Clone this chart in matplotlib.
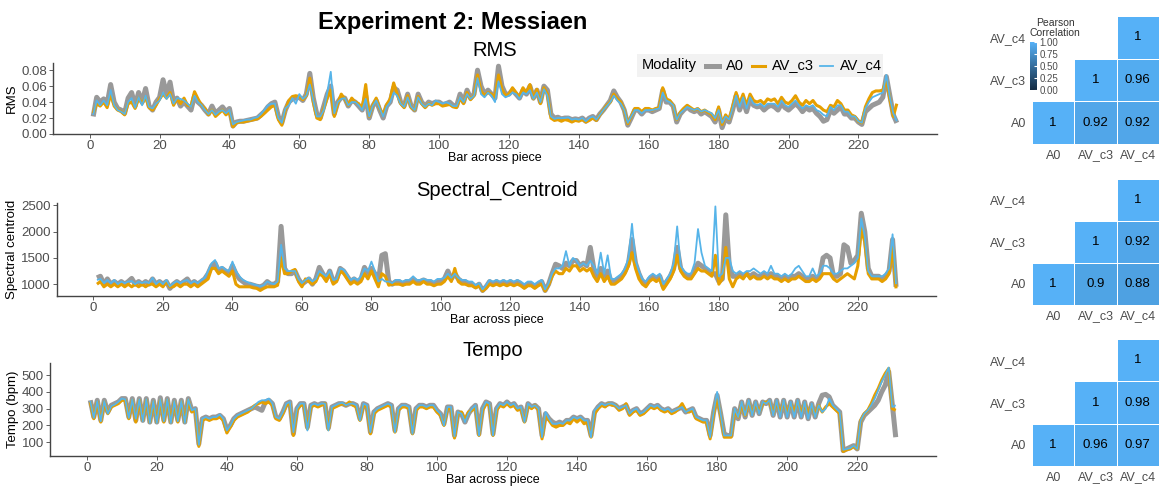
import numpy as np
import matplotlib
matplotlib.use('Agg')
import matplotlib.pyplot as plt
from matplotlib.colors import LinearSegmentedColormap, Normalize
from matplotlib.colorbar import ColorbarBase
from matplotlib.patches import Rectangle
from matplotlib.lines import Line2D

plt.rcParams['font.family'] = ['Liberation Sans', 'DejaVu Sans']

# Data
bars = np.arange(1, 232)
modalities = ['A0', 'AV_c3', 'AV_c4']

# RMS, in thousandths
rms_A0 = [22, 46, 40, 44, 38, 62, 40, 32, 30, 26,
          45, 52, 35, 52, 40, 57, 35, 30, 40, 46,
          68, 50, 65, 40, 45, 35, 40, 35, 30, 48,
          40, 36, 30, 25, 35, 26, 30, 34, 28, 32,
          10, 15, 16, 16, 17, 18, 19, 20, 24, 28,
          34, 38, 40, 22, 14, 30, 40, 44, 45, 46,
          42, 50, 76, 45, 25, 20, 35, 50, 60, 25,
          40, 46, 45, 35, 42, 40, 35, 30, 48, 20,
          35, 42, 30, 20, 35, 40, 58, 55, 40, 35,
          50, 35, 30, 50, 40, 35, 40, 38, 40, 40,
          37, 38, 40, 36, 35, 50, 40, 55, 45, 50,
          80, 60, 50, 55, 50, 45, 85, 60, 50, 50,
          55, 50, 45, 55, 50, 60, 45, 55, 40, 60,
          55, 25, 20, 21, 19, 20, 20, 18, 19, 18,
          20, 16, 20, 22, 18, 25, 30, 36, 42, 54,
          46, 40, 30, 11, 20, 30, 30, 25, 30, 30,
          28, 30, 32, 55, 40, 40, 35, 15, 25, 30,
          34, 30, 28, 30, 25, 28, 25, 22, 15, 30,
          8, 20, 15, 30, 48, 30, 42, 28, 44, 36,
          34, 35, 30, 34, 36, 34, 30, 38, 33, 30,
          34, 38, 34, 28, 33, 30, 32, 26, 22, 16,
          18, 30, 26, 30, 34, 25, 25, 20, 20, 15,
          12, 28, 32, 36, 38, 40, 46, 72, 48, 24, 14]
rms_c3 = [26, 38, 35, 40, 33, 50, 35, 30, 28, 24,
          38, 40, 32, 45, 38, 46, 33, 30, 36, 44,
          50, 45, 52, 36, 44, 38, 45, 36, 35, 53,
          44, 36, 32, 24, 30, 22, 26, 30, 24, 28,
          9, 14, 15, 15, 16, 17, 18, 19, 22, 26,
          30, 34, 36, 18, 11, 30, 42, 47, 48, 47,
          43, 48, 70, 40, 20, 18, 32, 45, 55, 22,
          38, 50, 44, 36, 45, 40, 38, 32, 62, 22,
          36, 45, 32, 24, 37, 44, 64, 50, 38, 33,
          48, 33, 30, 47, 38, 33, 38, 36, 38, 38,
          35, 36, 37, 34, 33, 45, 38, 52, 43, 48,
          74, 54, 48, 52, 50, 46, 74, 56, 48, 50,
          58, 52, 46, 58, 52, 62, 44, 56, 38, 58,
          50, 20, 17, 18, 16, 18, 17, 15, 17, 16,
          18, 15, 17, 20, 17, 24, 30, 36, 40, 50,
          44, 40, 30, 13, 22, 32, 32, 28, 32, 32,
          30, 32, 33, 58, 44, 42, 36, 18, 27, 32,
          36, 33, 30, 32, 28, 30, 27, 25, 18, 34,
          12, 24, 18, 34, 52, 38, 50, 36, 50, 42,
          40, 42, 38, 44, 42, 44, 38, 46, 40, 38,
          42, 48, 40, 36, 42, 38, 42, 36, 34, 30,
          28, 36, 34, 42, 38, 30, 30, 24, 22, 16,
          14, 34, 44, 52, 54, 54, 55, 68, 44, 22, 38]
rms_c4 = [24, 42, 36, 42, 36, 55, 36, 30, 28, 25,
          40, 45, 33, 46, 36, 48, 34, 32, 38, 42,
          52, 44, 50, 38, 45, 44, 42, 38, 34, 48,
          40, 36, 30, 25, 30, 24, 28, 30, 26, 30,
          12, 15, 16, 17, 18, 18, 20, 21, 25, 30,
          36, 38, 38, 20, 14, 32, 36, 45, 38, 50,
          44, 48, 62, 42, 22, 22, 30, 52, 78, 26,
          40, 44, 45, 36, 40, 40, 36, 30, 44, 22,
          35, 42, 32, 22, 34, 40, 52, 48, 38, 34,
          46, 34, 30, 46, 38, 34, 38, 36, 42, 40,
          38, 40, 38, 35, 35, 46, 40, 50, 44, 48,
          70, 50, 46, 52, 48, 40, 66, 50, 46, 48,
          52, 50, 44, 52, 50, 55, 44, 52, 40, 56,
          48, 22, 19, 20, 20, 20, 21, 18, 19, 18,
          20, 16, 20, 22, 18, 24, 30, 35, 40, 48,
          42, 38, 30, 14, 22, 30, 30, 26, 30, 30,
          30, 31, 32, 52, 42, 40, 36, 18, 26, 30,
          34, 32, 30, 32, 28, 30, 28, 26, 20, 30,
          14, 22, 18, 32, 48, 34, 46, 32, 46, 38,
          36, 38, 34, 38, 38, 38, 34, 42, 36, 34,
          38, 42, 36, 32, 36, 34, 36, 30, 28, 24,
          22, 34, 30, 36, 36, 28, 28, 22, 22, 16,
          14, 32, 40, 46, 48, 50, 52, 74, 46, 26, 16]

# Spectral centroid, Hz
spec_A0 = [1120, 1150, 1000, 1100, 1000, 1050, 1000, 1050, 1000, 1050,
           1110, 1000, 1050, 1000, 1050, 1000, 1100, 1000, 1050, 1000,
           1050, 920, 1000, 1050, 1000, 1050, 1100, 1000, 1050, 1000,
           1050, 1100, 1200, 1350, 1400, 1250, 1300, 1250, 1200, 1350,
           1200, 1100, 1050, 1000, 1000, 980, 960, 950, 980, 1050,
           1000, 1000, 1050, 2100, 1300, 1200, 1200, 1250, 1100, 1000,
           1050, 1100, 1000, 1100, 1320, 1200, 1100, 1250, 1050, 1100,
           1300, 1250, 1150, 1050, 1100, 1050, 1100, 1320, 1200, 1300,
           1200, 1050, 1550, 1580, 1050, 1000, 1050, 1050, 1000, 1050,
           1050, 1100, 1050, 1050, 1080, 1050, 1050, 1000, 1050, 1050,
           1100, 1250, 1100, 1200, 1100, 1050, 1050, 1000, 1000, 950,
           1000, 880, 950, 1050, 1000, 1050, 1000, 1050, 1000, 1050,
           1000, 1050, 1000, 950, 1000, 1000, 950, 1000, 1050, 880,
           1000, 1200, 1380, 1350, 1300, 1400, 1350, 1450, 1450, 1350,
           1400, 1350, 1700, 1300, 1150, 1300, 1150, 1250, 1050, 1050,
           1100, 1150, 1250, 1400, 1850, 1400, 1200, 1050, 1000, 1100,
           1150, 1100, 1150, 950, 1050, 1150, 1300, 1700, 1300, 1200,
           1150, 1150, 1250, 1400, 1350, 1300, 1250, 1200, 1200, 1050,
           1100, 2320, 1350, 1150, 1150, 1200, 1150, 1200, 1150, 1200,
           1150, 1150, 1200, 1150, 1200, 1150, 1150, 1100, 1150, 1100,
           1150, 1150, 1200, 1150, 1100, 1100, 1150, 1100, 1150, 1500,
           1550, 1500, 1150, 1150, 1200, 1750, 1700, 1400, 1450, 1550,
           2350, 2000, 1300, 1150, 1150, 1150, 1100, 1150, 1250, 1850, 950]
spec_c3 = [1000, 1050, 950, 1000, 950, 1000, 950, 1000, 950, 1000,
           950, 1000, 950, 1000, 950, 1000, 1000, 950, 1000, 950,
           1050, 950, 950, 1000, 950, 1000, 1000, 950, 1000, 950,
           1000, 1050, 1100, 1300, 1300, 1200, 1250, 1200, 1150, 1250,
           1000, 950, 950, 950, 950, 930, 920, 880, 920, 950,
           950, 950, 980, 1500, 1200, 1200, 1250, 1280, 1050, 950,
           1100, 1050, 1000, 1050, 1200, 1150, 1050, 1200, 1000, 1050,
           1250, 1200, 1100, 1000, 1050, 1000, 1050, 1200, 1100, 1250,
           1100, 950, 1200, 1150, 980, 1000, 1000, 1000, 980, 1000,
           1000, 1050, 1000, 1000, 1050, 1000, 1000, 970, 1000, 1000,
           1050, 1150, 1050, 1300, 1050, 1000, 1000, 970, 970, 930,
           970, 870, 920, 1000, 970, 1000, 970, 1000, 970, 1000,
           970, 1000, 970, 920, 970, 970, 920, 970, 1000, 870,
           980, 1150, 1250, 1200, 1200, 1300, 1250, 1350, 1350, 1250,
           1300, 1250, 1300, 1150, 1050, 1200, 1050, 1150, 1000, 1000,
           1050, 1100, 1200, 1350, 1600, 1300, 1100, 1000, 950, 1050,
           1100, 1050, 1100, 900, 1000, 1100, 1250, 1550, 1250, 1150,
           1100, 1100, 1200, 1300, 1250, 1250, 1200, 1150, 1550, 1000,
           1100, 1700, 1100, 950, 1100, 1150, 1100, 1200, 1100, 1150,
           1100, 1100, 1150, 1100, 1150, 1100, 1100, 1050, 1100, 1050,
           1100, 1100, 1150, 1100, 1050, 1050, 1100, 1050, 1100, 1200,
           1200, 1200, 1100, 1050, 1100, 1150, 1200, 1150, 1100, 1350,
           2050, 1800, 1200, 1100, 1100, 1100, 1050, 1100, 1200, 1700, 920]
spec_c4 = [1080, 1100, 1020, 1080, 1020, 1080, 1000, 1050, 1020, 1050,
           1060, 1000, 1050, 1020, 1050, 1020, 1120, 1000, 1060, 1000,
           1080, 960, 1020, 1060, 1020, 1060, 1080, 1020, 1060, 1020,
           1080, 1120, 1250, 1400, 1460, 1300, 1330, 1280, 1250, 1430,
           1250, 1150, 1080, 1050, 1020, 1000, 980, 960, 980, 1050,
           1020, 1000, 1050, 1750, 1300, 1250, 1250, 1250, 1100, 1020,
           1080, 1120, 1050, 1100, 1250, 1200, 1150, 1250, 1080, 1100,
           1300, 1280, 1180, 1080, 1120, 1080, 1150, 1300, 1250, 1430,
           1250, 1050, 1100, 1050, 1050, 1020, 1080, 1080, 1050, 1080,
           1080, 1150, 1080, 1080, 1100, 1080, 1080, 1050, 1100, 1100,
           1120, 1200, 1120, 1200, 1120, 1080, 1080, 1050, 1050, 980,
           1020, 900, 980, 1080, 1050, 1080, 1050, 1080, 1050, 1080,
           1050, 1080, 1050, 1000, 1050, 1050, 1000, 1050, 1080, 900,
           1020, 1200, 1300, 1300, 1350, 1630, 1350, 1500, 1450, 1350,
           1400, 1350, 1450, 1350, 1200, 1600, 1200, 1550, 1100, 1100,
           1150, 1200, 1300, 1500, 2150, 1450, 1250, 1100, 1050, 1150,
           1200, 1150, 1200, 1000, 1100, 1200, 1400, 2100, 1350, 1250,
           1200, 1200, 1400, 2050, 1600, 1350, 1300, 1250, 2480, 1150,
           1200, 1500, 1500, 1250, 1200, 1250, 1200, 1250, 1250, 1300,
           1250, 1200, 1250, 1200, 1350, 1200, 1200, 1150, 1200, 1150,
           1200, 1300, 1350, 1250, 1150, 1150, 1300, 1150, 1200, 1350,
           1350, 1300, 1200, 1200, 1250, 1300, 1300, 1350, 1400, 1500,
           2250, 1900, 1250, 1150, 1150, 1150, 1150, 1200, 1300, 1950, 1000]

# Tempo, bpm
tempo_A0 = [350, 250, 350, 230, 350, 280, 320, 330, 340, 360,
            360, 250, 360, 230, 360, 230, 360, 220, 350, 220,
            365, 230, 360, 220, 350, 230, 350, 220, 360, 290,
            300, 90, 240, 250, 240, 250, 250, 260, 240, 175,
            200, 240, 260, 270, 280, 290, 300, 310, 300, 290,
            340, 350, 330, 250, 240, 280, 330, 340, 150, 300,
            330, 330, 190, 320, 330, 320, 330, 330, 185, 310,
            320, 330, 330, 320, 330, 330, 320, 240, 330, 320,
            160, 280, 300, 310, 320, 330, 320, 170, 300, 320,
            320, 310, 160, 300, 320, 320, 310, 320, 320, 290,
            270, 210, 310, 310, 140, 280, 270, 220, 270, 300,
            320, 150, 300, 340, 330, 150, 300, 330, 320, 340,
            320, 330, 300, 310, 230, 330, 310, 320, 300, 140,
            270, 240, 220, 210, 220, 210, 230, 230, 250, 240,
            250, 230, 230, 140, 280, 310, 330, 320, 330, 330,
            320, 300, 310, 320, 270, 290, 300, 270, 280, 300,
            320, 310, 320, 300, 290, 300, 280, 290, 300, 310,
            280, 290, 300, 250, 240, 230, 230, 140, 280, 380,
            270, 150, 140, 140, 300, 240, 340, 250, 350, 260,
            340, 270, 340, 330, 350, 260, 350, 250, 350, 250,
            340, 250, 350, 250, 340, 240, 330, 250, 330, 380,
            385, 370, 320, 300, 280, 50, 60, 70, 80, 60,
            220, 260, 280, 300, 320, 350, 400, 440, 520, 330, 130]
tempo_c3 = [340, 240, 340, 220, 340, 270, 310, 320, 330, 350,
            350, 240, 350, 220, 350, 230, 350, 220, 340, 220,
            350, 220, 350, 220, 340, 220, 340, 220, 350, 280,
            290, 75, 230, 240, 230, 240, 240, 250, 230, 155,
            190, 230, 250, 260, 270, 280, 300, 320, 330, 340,
            330, 340, 320, 240, 230, 270, 320, 330, 140, 290,
            320, 320, 180, 310, 320, 310, 320, 330, 175, 300,
            310, 320, 330, 320, 340, 320, 310, 230, 320, 310,
            150, 270, 290, 300, 310, 320, 310, 160, 290, 310,
            310, 300, 150, 290, 310, 310, 300, 310, 310, 280,
            260, 200, 300, 300, 125, 270, 280, 230, 280, 290,
            310, 140, 290, 330, 320, 140, 290, 320, 310, 330,
            310, 320, 290, 300, 220, 320, 300, 320, 290, 120,
            260, 230, 200, 190, 200, 200, 220, 210, 240, 220,
            240, 210, 220, 130, 270, 300, 320, 310, 330, 320,
            320, 290, 300, 330, 260, 280, 290, 260, 270, 290,
            310, 300, 310, 290, 280, 290, 270, 280, 300, 330,
            290, 280, 290, 240, 230, 220, 220, 120, 270, 370,
            260, 130, 130, 130, 290, 250, 330, 260, 340, 270,
            330, 280, 330, 340, 340, 270, 340, 270, 340, 270,
            330, 280, 340, 270, 330, 270, 320, 260, 320, 280,
            310, 330, 310, 290, 270, 45, 55, 60, 75, 60,
            230, 270, 290, 330, 380, 420, 470, 510, 540, 300, 290]
tempo_c4 = [345, 245, 345, 225, 345, 270, 315, 325, 340, 360,
            355, 245, 355, 240, 355, 225, 355, 215, 345, 215,
            355, 225, 355, 215, 345, 225, 345, 215, 355, 290,
            300, 85, 240, 250, 240, 250, 250, 265, 240, 170,
            200, 240, 260, 270, 280, 290, 300, 320, 340, 350,
            350, 360, 330, 250, 240, 280, 330, 340, 160, 300,
            330, 330, 170, 320, 330, 320, 330, 330, 170, 310,
            320, 330, 335, 320, 330, 330, 320, 230, 330, 320,
            160, 280, 300, 310, 320, 330, 320, 160, 300, 320,
            320, 310, 150, 300, 320, 320, 310, 320, 320, 290,
            270, 200, 310, 310, 135, 280, 270, 220, 270, 300,
            320, 140, 300, 340, 330, 140, 300, 330, 320, 340,
            320, 330, 300, 310, 220, 330, 310, 320, 300, 130,
            280, 240, 210, 210, 215, 210, 230, 230, 250, 240,
            250, 230, 230, 130, 290, 310, 330, 320, 330, 330,
            320, 300, 310, 320, 270, 290, 300, 270, 280, 300,
            320, 310, 320, 300, 290, 300, 280, 290, 300, 310,
            280, 290, 300, 250, 240, 230, 230, 130, 280, 400,
            270, 140, 140, 140, 300, 250, 340, 260, 350, 260,
            340, 270, 340, 330, 350, 260, 350, 250, 350, 250,
            340, 250, 350, 250, 340, 240, 330, 250, 320, 280,
            300, 360, 320, 300, 280, 55, 60, 65, 80, 60,
            230, 270, 290, 320, 360, 410, 460, 500, 545, 310, 320]

# Pearson correlations, rows A0 / AV_c3 / AV_c4 against columns A0 / AV_c3 / AV_c4
corr_rms = [[1, 0.92, 0.92], [np.nan, 1, 0.96], [np.nan, np.nan, 1]]
corr_spec = [[1, 0.9, 0.88], [np.nan, 1, 0.92], [np.nan, np.nan, 1]]
corr_tempo = [[1, 0.96, 0.97], [np.nan, 1, 0.98], [np.nan, np.nan, 1]]

for s in [rms_A0, rms_c3, rms_c4, spec_A0, spec_c3, spec_c4, tempo_A0, tempo_c3, tempo_c4]:
    assert len(s) == 231, len(s)

W, H = 1162, 487
fig = plt.figure(figsize=(W / 100, H / 100), dpi=100)


def rect(x0, y0, x1, y1):
    # pixel box (top-left origin) -> figure fraction
    return [x0 / W, 1 - y1 / H, (x1 - x0) / W, (y1 - y0) / H]


colors = {'A0': '#999999', 'AV_c3': '#E69F00', 'AV_c4': '#56B4E9'}
widths = {'A0': 3.6, 'AV_c3': 2.2, 'AV_c4': 1.3}
txt_grey = '#4D4D4D'
axis_grey = '#444444'


def line_panel(box, series, title, ylabel, ylim, yticks, yfmt):
    ax = fig.add_axes(rect(*box))
    for name in modalities:
        ax.plot(bars, series[name], color=colors[name], lw=widths[name],
                solid_joinstyle='round', solid_capstyle='butt')
    ax.set_xlim(-10.5, 242.5)
    ax.set_ylim(*ylim)
    ax.set_xticks(range(0, 221, 20))
    ax.set_yticks(yticks)
    ax.set_yticklabels([yfmt % v for v in yticks])
    for sp in ['top', 'right']:
        ax.spines[sp].set_visible(False)
    for sp in ['left', 'bottom']:
        ax.spines[sp].set_color(axis_grey)
        ax.spines[sp].set_linewidth(1.0)
    ax.tick_params(axis='both', colors=axis_grey, labelcolor=txt_grey,
                   labelsize=9.5, length=3, width=0.6, pad=1.5)
    ax.set_title(title, fontsize=14.5, pad=5)
    ax.set_ylabel(ylabel, fontsize=9.5, labelpad=2)
    ax.set_xlabel('Bar across piece', fontsize=9, labelpad=0)
    ax.patch.set_alpha(0)
    return ax


rms = {'A0': np.array(rms_A0) / 1000, 'AV_c3': np.array(rms_c3) / 1000,
       'AV_c4': np.array(rms_c4) / 1000}
spec = {'A0': spec_A0, 'AV_c3': spec_c3, 'AV_c4': spec_c4}
tempo = {'A0': tempo_A0, 'AV_c3': tempo_c3, 'AV_c4': tempo_c4}

line_panel((53, 63, 937, 134), rms, 'RMS', 'RMS', (0.0, 0.089),
           [0, 0.02, 0.04, 0.06, 0.08], '%.2f')
line_panel((57, 203, 936, 296), spec, 'Spectral_Centroid', 'Spectral centroid',
           (775, 2545), [1000, 1500, 2000, 2500], '%d')
line_panel((50, 363, 936, 456), tempo, 'Tempo', 'Tempo (bpm)', (18, 572),
           [100, 200, 300, 400, 500], '%d')

fig.text(453 / W, 1 - 22 / H, 'Experiment 2: Messiaen', fontsize=17,
         fontweight='bold', ha='center', va='center')

# Modality legend (drawn by hand to keep the title on the left)
fig.patches.append(Rectangle((637 / W, 1 - 77 / H), 246 / W, 23 / H,
                             transform=fig.transFigure, facecolor='#F2F2F2',
                             edgecolor='none', zorder=5))
fig.text(642 / W, 1 - 65.5 / H, 'Modality', fontsize=10.5, va='center',
         ha='left', zorder=6)
key_x = {'A0': 706, 'AV_c3': 752, 'AV_c4': 820}
for name in modalities:
    x0 = key_x[name]
    fig.lines.append(Line2D([x0 / W, (x0 + 13) / W], [1 - 65.5 / H] * 2,
                            transform=fig.transFigure, color=colors[name],
                            lw=widths[name], zorder=6))
    fig.text((x0 + 20) / W, 1 - 65.5 / H, name, fontsize=10.5, va='center',
             ha='left', zorder=6)

# Correlation heatmaps
cmap = LinearSegmentedColormap.from_list('gg', ['#132B43', '#56B1F7'])
norm = Normalize(0, 1)


def heat_panel(box, corr):
    ax = fig.add_axes(rect(*box))
    data = np.ma.masked_invalid(np.array(corr, dtype=float))
    ax.pcolormesh(np.arange(4), np.arange(4), data, cmap=cmap, norm=norm,
                  edgecolors='white', linewidth=0.5)
    for r in range(3):
        for c in range(3):
            v = corr[r][c]
            if not np.isnan(v):
                ax.text(c + 0.5, r + 0.5, f'{v:g}', ha='center', va='center',
                        fontsize=9.5, color='black')
    ax.set_xlim(0, 3)
    ax.set_ylim(0, 3)
    ax.set_xticks([0.5, 1.5, 2.5])
    ax.set_yticks([0.5, 1.5, 2.5])
    ax.set_xticklabels(modalities)
    ax.set_yticklabels(modalities)
    ax.tick_params(length=0, labelsize=9, labelcolor=txt_grey, pad=4)
    for sp in ax.spines.values():
        sp.set_visible(False)
    return ax


heat_panel((1032, 16, 1159, 144), corr_rms)
heat_panel((1032, 179, 1159, 305), corr_spec)
heat_panel((1032, 339, 1159, 466), corr_tempo)

cax = fig.add_axes(rect(1030, 42, 1037, 90))
cb = ColorbarBase(cax, cmap=cmap, norm=norm, orientation='vertical')
cb.set_ticks([0, 0.25, 0.5, 0.75, 1.0])
cb.set_ticklabels(['0.00', '0.25', '0.50', '0.75', '1.00'])
cb.outline.set_visible(False)
cax.tick_params(labelsize=7, labelcolor=txt_grey, color='white', length=2,
                direction='in', pad=2)
fig.text(1055 / W, 1 - 28 / H, 'Pearson\nCorrelation', fontsize=7.5,
         ha='center', va='center', color='#333333', linespacing=1.0)

fig.savefig('out.png', dpi=100)
